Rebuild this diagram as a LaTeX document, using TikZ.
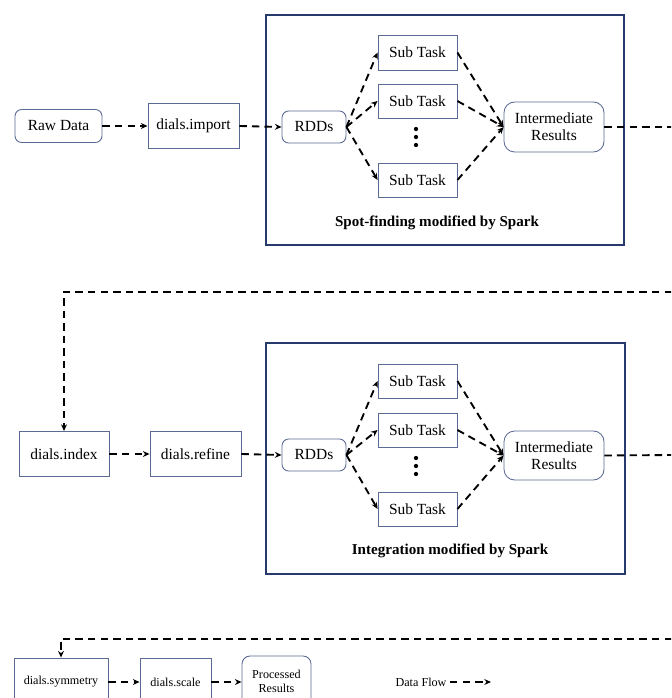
\documentclass[tikz,border=0pt]{standalone}
\usepackage{fontspec}
\setmainfont{Liberation Serif}
\usetikzlibrary{arrows.meta}
\definecolor{nodeedge}{HTML}{5A6A94}
\definecolor{sparkedge}{HTML}{263A6E}
\tikzset{
  box/.style={draw=nodeedge, line width=0.65pt, inner sep=0pt, align=center, font=\fontsize{11.6}{13}\selectfont},
  rbox/.style={box, rounded corners=5pt},
  smallbox/.style={draw=nodeedge, line width=0.65pt, inner sep=0pt, align=center, font=\fontsize{9.1}{10.5}\selectfont},
  sparkbox/.style={draw=sparkedge, line width=1.5pt, inner sep=0pt},
  flow/.style={line width=1.4pt, dash pattern=on 5.6pt off 3.8pt, -{Stealth[length=5pt,width=4.4pt]}},
  flowplain/.style={line width=1.4pt, dash pattern=on 5.6pt off 3.8pt},
  caption/.style={font=\bfseries\fontsize{11.3}{13}\selectfont},
  dot/.style={circle, fill=black, inner sep=0pt, minimum size=3.2pt}
}
\begin{document}
\begin{tikzpicture}[x=0.75pt,y=-0.75pt]
\useasboundingbox (0,0) rectangle (671,698);
\clip (0,0) rectangle (671,698);
% ---------- top row ----------
\node[sparkbox, minimum width=358*0.75pt, minimum height=230*0.75pt] (sp1) at (445,130) {};
\node[rbox, minimum width=87*0.75pt, minimum height=33*0.75pt] (raw) at (58.5,126) {Raw Data};
\node[box, minimum width=91*0.75pt, minimum height=45*0.75pt] (imp) at (193.5,126) {dials.import};
\node[rbox, minimum width=64*0.75pt, minimum height=32*0.75pt] (rdd1) at (314,127) {RDDs};
\node[box, minimum width=79*0.75pt, minimum height=35*0.75pt] (s1a) at (417.5,52.5) {Sub Task};
\node[box, minimum width=79*0.75pt, minimum height=34*0.75pt] (s1b) at (417.5,101) {Sub Task};
\node[box, minimum width=79*0.75pt, minimum height=34*0.75pt] (s1c) at (417.5,180) {Sub Task};
\node[dot] (d1a) at (416,129) {};
\node[dot] (d1b) at (416,137) {};
\node[dot] (d1c) at (416,145) {};
\node[rbox, rounded corners=8pt, minimum width=100*0.75pt, minimum height=50*0.75pt] (ir1) at (554,127) {Intermediate\\Results};
\node[caption] (cap1) at (437,223) {Spot-finding modified by Spark};
\coordinate (e1) at (672,127);
\draw[flow] (raw) -- (imp);
\draw[flow] (imp.east) -- (rdd1.west);
\draw[flow] (rdd1.east) -- (s1a.west);
\draw[flow] (rdd1.east) -- (s1b.west);
\draw[flow] (rdd1.east) -- (s1c.west);
\draw[flow] (s1a.east) -- (ir1.west);
\draw[flow] (s1b.east) -- (ir1.west);
\draw[flow] (s1c.east) -- (ir1.west);
\draw[flowplain] (ir1.east) -- (e1);
% ---------- middle row ----------
\node[sparkbox, minimum width=359*0.75pt, minimum height=231*0.75pt] (sp2) at (445.5,458.5) {};
\node[box, minimum width=90*0.75pt, minimum height=45*0.75pt] (idx) at (64,454) {dials.index};
\node[box, minimum width=91*0.75pt, minimum height=45*0.75pt] (ref) at (195.5,454) {dials.refine};
\node[rbox, minimum width=64*0.75pt, minimum height=32*0.75pt] (rdd2) at (314,455) {RDDs};
\node[box, minimum width=79*0.75pt, minimum height=34*0.75pt] (s2a) at (417.5,381) {Sub Task};
\node[box, minimum width=79*0.75pt, minimum height=34*0.75pt] (s2b) at (417.5,430) {Sub Task};
\node[box, minimum width=79*0.75pt, minimum height=34*0.75pt] (s2c) at (417.5,509) {Sub Task};
\node[dot] (d2a) at (416,458) {};
\node[dot] (d2b) at (416,466) {};
\node[dot] (d2c) at (416,474) {};
\node[rbox, rounded corners=8pt, minimum width=100*0.75pt, minimum height=49*0.75pt] (ir2) at (554,455.5) {Intermediate\\Results};
\node[caption] (cap2) at (450,551) {Integration modified by Spark};
\coordinate (b1) at (672,292);
\coordinate (e2) at (672,455);
\draw[flow] (b1) -| (idx.north);
\draw[flow] (idx) -- (ref);
\draw[flow] (ref.east) -- (rdd2.west);
\draw[flow] (rdd2.east) -- (s2a.west);
\draw[flow] (rdd2.east) -- (s2b.west);
\draw[flow] (rdd2.east) -- (s2c.west);
\draw[flow] (s2a.east) -- (ir2.west);
\draw[flow] (s2b.east) -- (ir2.west);
\draw[flow] (s2c.east) -- (ir2.west);
\draw[flowplain] (ir2.east) -- (e2);
% ---------- bottom row ----------
\coordinate (b2) at (672,639);
\node[smallbox, minimum width=94*0.75pt, minimum height=48*0.75pt] (sym) at (61,682) {dials.symmetry};
\node[smallbox, minimum width=71*0.75pt, minimum height=48*0.75pt] (scl) at (175.5,682) {dials.scale};
\node[smallbox, rounded corners=6pt, minimum width=69*0.75pt, minimum height=50*0.75pt] (proc) at (276.5,681) {Processed\\Results};
\draw[flow] (b2) -| (sym.north);
\draw[flow] (sym.east |- 0,682) -- (scl.west |- 0,682);
\draw[flow] (scl.east |- 0,682) -- (proc.west |- 0,682);
% legend
\node[font=\fontsize{9.1}{10.5}\selectfont] (leg) at (421,682) {Data Flow};
\coordinate (la) at (450,682);
\coordinate (lb) at (491,682);
\draw[flow] (la) -- (lb);
\end{tikzpicture}
\end{document}
